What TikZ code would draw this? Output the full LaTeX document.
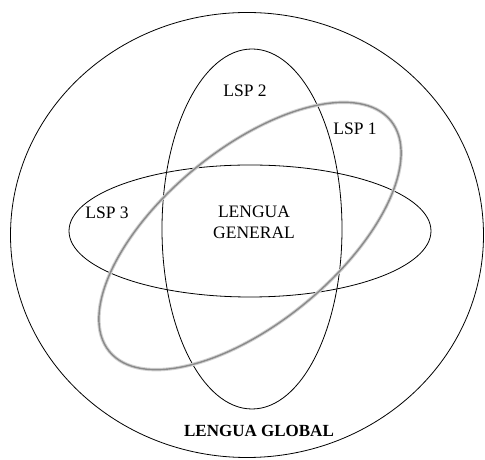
\documentclass[tikz,border=0pt]{standalone}
\usepackage{fontspec}
\setmainfont{Liberation Serif}
\usetikzlibrary{shapes.geometric}
\definecolor{Smudge}{HTML}{8A8A8A}
\definecolor{Halo}{HTML}{D2D2D2}

\begin{document}
\begin{tikzpicture}[x=1pt,y=1pt,
        ring/.style={ellipse,draw=black,line width=0.8pt,inner sep=0pt,outer sep=0pt},
        halo/.style={ring,draw=Halo,line width=3.4pt},
        smudge/.style={ring,draw=Smudge,line width=1.4pt},
        tag/.style={font=\fontsize{17.5}{21}\selectfont,align=center,inner sep=0pt}]
        \useasboundingbox (0,0) rectangle (485,460);
        \node[ring,minimum width=473pt,minimum height=445pt] (global) at (247,225) {};
        \node[ring,minimum width=180pt,minimum height=360pt] (lsptwo) at (252,231) {};
        \node[ring,minimum width=362pt,minimum height=132pt] (lspthree) at (250,229) {};
        % tilted one is drawn greyish and soft
        \node[halo,minimum width=364pt,minimum height=174pt,rotate=39.4] (lsponehalo) at (250,224) {};
        \node[smudge,minimum width=364pt,minimum height=174pt,rotate=39.4] (lspone) at (250,224) {};
        \node[tag] (ltwo) at (245,369) {LSP 2};
        \node[tag] (lone) at (355,331) {LSP 1};
        \node[tag] (lthree) at (107,247) {LSP 3};
        \node[tag] (general) at (254,237.5) {LENGUA\\GENERAL};
        \node[tag,font=\fontsize{17}{20}\selectfont\bfseries] (lglobal) at (259,29) {LENGUA GLOBAL};
      \end{tikzpicture}
\end{document}
